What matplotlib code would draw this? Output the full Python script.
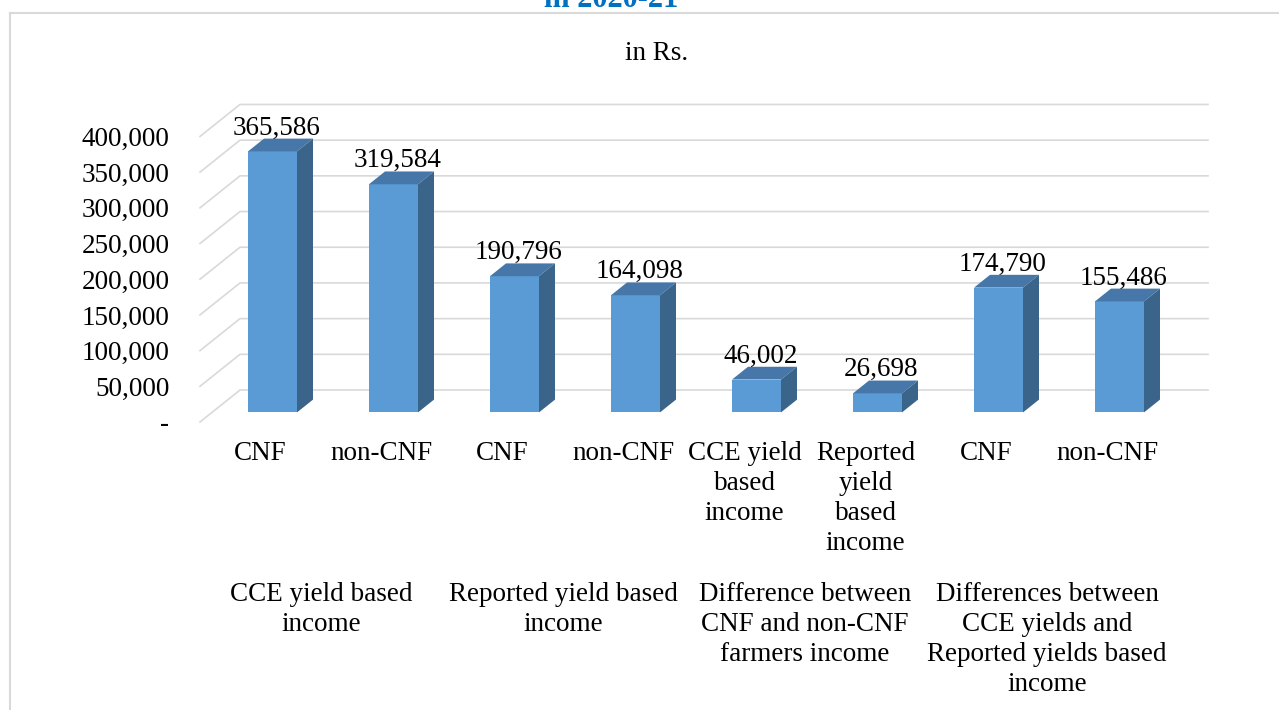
"""Excel-style 3D column chart: CNF vs non-CNF farmer income, 2020-21 (in Rs.)."""
import matplotlib
matplotlib.use("Agg")
import matplotlib.pyplot as plt
from matplotlib.patches import Polygon
from matplotlib.lines import Line2D
from matplotlib.transforms import blended_transform_factory

plt.rcParams["font.family"] = ["Liberation Serif", "DejaVu Serif"]

# data
categories = ["CNF", "non-CNF", "CNF", "non-CNF",
              "CCE yield\nbased\nincome", "Reported\nyield\nbased\nincome",
              "CNF", "non-CNF"]
values = [365586, 319584, 190796, 164098, 46002, 26698, 174790, 155486]
groups = ["CCE yield based\nincome",
          "Reported yield based\nincome",
          "Difference between\nCNF and non-CNF\nfarmers income",
          "Differences between\nCCE yields and\nReported yields based\nincome"]
yticks = [0, 50000, 100000, 150000, 200000, 250000, 300000, 350000, 400000]

# fake-3D geometry (depth of the plot box in data units)
DX = 40 / 121          # horizontal depth shift, in category units
DY = 44800             # vertical depth shift, in value units
F = 0.3                # depth at which bars sit
D = 0.4                # depth of each bar
BW = 0.405             # bar width
FRONT = "#5B9BD5"
TOP = "#4677A8"
SIDE = "#3A6489"
GRID = "#D9D9D9"
FS = 19.5
LS = 1.27

fig = plt.figure(figsize=(12.79, 7.10), dpi=100)
ax = fig.add_axes([200 / 1279, 288 / 710, 1008 / 1279, 328.4 / 710])
n = len(values)
ax.set_xlim(0, n + DX)
ax.set_ylim(0, 460000)
for s in ax.spines.values():
    s.set_visible(False)
ax.set_xticks([])
ax.set_yticks(yticks)
ax.set_yticklabels(["-" if v == 0 else f"{v:,}" for v in yticks], fontsize=FS)
ax.tick_params(axis="y", length=0, pad=22)

# gridlines: floor-to-wall diagonal plus back-wall horizontal
for v in yticks:
    ax.plot([0, DX, n + DX], [v, v + DY, v + DY], color=GRID, lw=1.2,
            zorder=1, clip_on=False)

# bars
for i, v in enumerate(values):
    x0 = i + 0.5 - BW / 2 + F * DX
    y0 = F * DY
    ax.bar(x0, v, width=BW, bottom=y0, align="edge", color=FRONT, zorder=3)
    x1 = x0 + BW
    y1 = y0 + v
    dx, dy = D * DX, D * DY
    ax.add_patch(Polygon([(x0, y1), (x1, y1), (x1 + dx, y1 + dy), (x0 + dx, y1 + dy)],
                         closed=True, color=TOP, zorder=3, lw=0))
    ax.add_patch(Polygon([(x1, y0), (x1 + dx, y0 + dy), (x1 + dx, y1 + dy), (x1, y1)],
                         closed=True, color=SIDE, zorder=3, lw=0))
    ax.annotate(f"{v:,}", (x0 + BW / 2 + 0.1 * DX, y1 + dy), xytext=(0, 3),
                textcoords="offset points", ha="center", va="baseline",
                fontsize=FS, zorder=4)

# category and group labels below the plot
tr = blended_transform_factory(ax.transData, fig.transFigure)
for i, c in enumerate(categories):
    ax.text(i + 0.5, 1 - 441 / 710, c, transform=tr, ha="center", va="top",
            fontsize=FS, linespacing=LS)
for j, g in enumerate(groups):
    ax.text(2 * j + 1, 1 - 582 / 710, g, transform=tr, ha="center", va="top",
            fontsize=FS, linespacing=LS)

# titles (the main title is clipped by the top edge, as in the source)
fig.text(611 / 1279, 1 - 7 / 710, "in 2020-21", ha="center", va="baseline",
         fontsize=22, fontweight="bold", color="#0070C0")
fig.text(657 / 1279, 1 - 60 / 710, "in Rs.", ha="center", va="baseline",
         fontsize=FS)

# chart-area border (top and left edges visible)
fig.add_artist(Line2D([10 / 1279, 1], [1 - 13 / 710, 1 - 13 / 710],
                      transform=fig.transFigure, color=GRID, lw=1.5))
fig.add_artist(Line2D([10 / 1279, 10 / 1279], [0, 1 - 13 / 710],
                      transform=fig.transFigure, color=GRID, lw=1.5))

fig.savefig("out.png", dpi=100)
